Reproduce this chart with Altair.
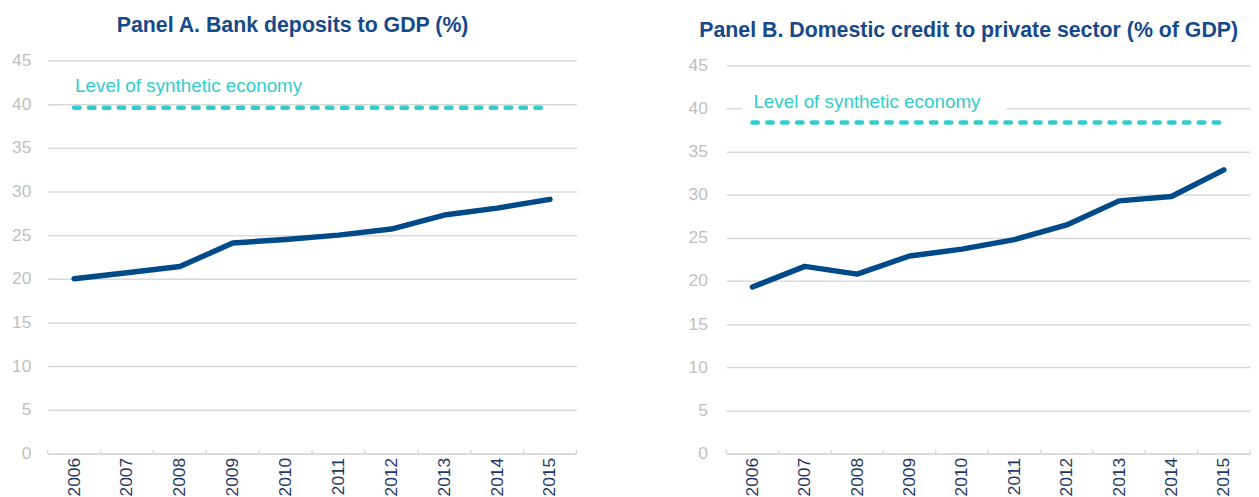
import altair as alt
import pandas as pd

years = [2006, 2007, 2008, 2009, 2010, 2011, 2012, 2013, 2014, 2015]
bank_deposits = [20.0, 20.7, 21.4, 24.1, 24.5, 25.0, 25.7, 27.3, 28.1, 29.1]
private_credit = [19.3, 21.7, 20.8, 22.9, 23.7, 24.8, 26.5, 29.3, 29.8, 32.9]
synthetic_deposits = 39.6
synthetic_credit = 38.4
label_text = "Level of synthetic economy"
y_ticks = [0, 5, 10, 15, 20, 25, 30, 35, 40, 45]
title_a = "Panel A. Bank deposits to GDP (%)"
title_b = "Panel B. Domestic credit to private sector (% of GDP)"

LINE = "#004A8A"
TEAL = "#33CCCC"
GRID = "#D9D9D9"
FONT = "Liberation Sans"


def panel(title, values, level, label_y, ymax, box, label_pad, width):
    xs = alt.Scale(domain=[years[0] - 0.5, years[-1] + 0.5], nice=False, zero=False)
    xa = alt.Axis(values=years, format="d", labelAngle=270, labelPadding=4,
                  labelFontSize=17.5, labelColor="#1F3864", ticks=False, grid=False,
                  domain=True, domainColor=GRID, domainWidth=1.5, labelFont=FONT)
    ys = alt.Scale(domain=[0, ymax], nice=False, zero=True)
    ya = alt.Axis(values=y_ticks, labelPadding=label_pad, labelFontSize=17.5,
                  labelColor="#BFBFBF", ticks=False, domain=False, grid=True,
                  gridColor=GRID, gridWidth=1.5, minExtent=40, maxExtent=40,
                  labelFont=FONT)

    def X(f):
        return alt.X(f, scale=xs, axis=xa, title=None)

    def Y(f):
        return alt.Y(f, scale=ys, axis=ya, title=None)

    df = pd.DataFrame({"year": years, "value": values})
    edges = pd.DataFrame({"edge": [y - 0.5 for y in years] + [years[-1] + 0.5],
                          "t0": 0.0, "t1": 0.45})
    lvl = pd.DataFrame({"x0": [years[0]], "x1": [years[-1]], "level": [level]})
    lab = pd.DataFrame({"x": [years[0]], "y": [label_y], "text": [label_text]})

    layers = []
    if box is not None:
        bdf = pd.DataFrame({"x0": [box[0]], "x1": [box[1]], "y0": [box[2]], "y1": [box[3]]})
        layers.append(alt.Chart(bdf).mark_rect(color="white").encode(
            x=X("x0:Q"), x2="x1", y=Y("y0:Q"), y2="y1"))
    layers.append(alt.Chart(edges).mark_rule(color=GRID, strokeWidth=1.5).encode(
        x=X("edge:Q"), y=Y("t0:Q"), y2="t1"))
    layers.append(alt.Chart(lvl).mark_rule(color=TEAL, strokeWidth=4.5,
                                           strokeDash=[5.5, 9.5], strokeCap="round").encode(
        x=X("x0:Q"), x2="x1", y=Y("level:Q")))
    layers.append(alt.Chart(df).mark_line(color=LINE, strokeWidth=5.5,
                                          strokeCap="round", strokeJoin="round").encode(
        x=X("year:Q"), y=Y("value:Q")))
    layers.append(alt.Chart(lab).mark_text(align="left", baseline="alphabetic",
                                           fontSize=19, color=TEAL, font=FONT, dx=1).encode(
        x=X("x:Q"), y=Y("y:Q"), text="text:N"))

    return alt.layer(*layers).properties(
        width=width, height=396,
        title=alt.TitleParams(title, fontSize=21.5, fontWeight="bold", color="#16498A",
                              font=FONT, anchor="middle", frame="bounds", offset=15),
    )


a = panel(title_a, bank_deposits, synthetic_deposits, 41.4, 45, None, 17, 533)
b = panel(title_b, private_credit, synthetic_credit, 40.1, 45.58,
          [2005.8, 2010.85, 39.1, 41.6], 19, 528)

chart = alt.hconcat(a, b, spacing=110).properties(
    padding={"top": 5, "left": 0, "right": 0, "bottom": 0},
    background="white",
).configure_view(stroke=None)

chart.save("out.html", embed_options={"renderer": "svg", "actions": False})
